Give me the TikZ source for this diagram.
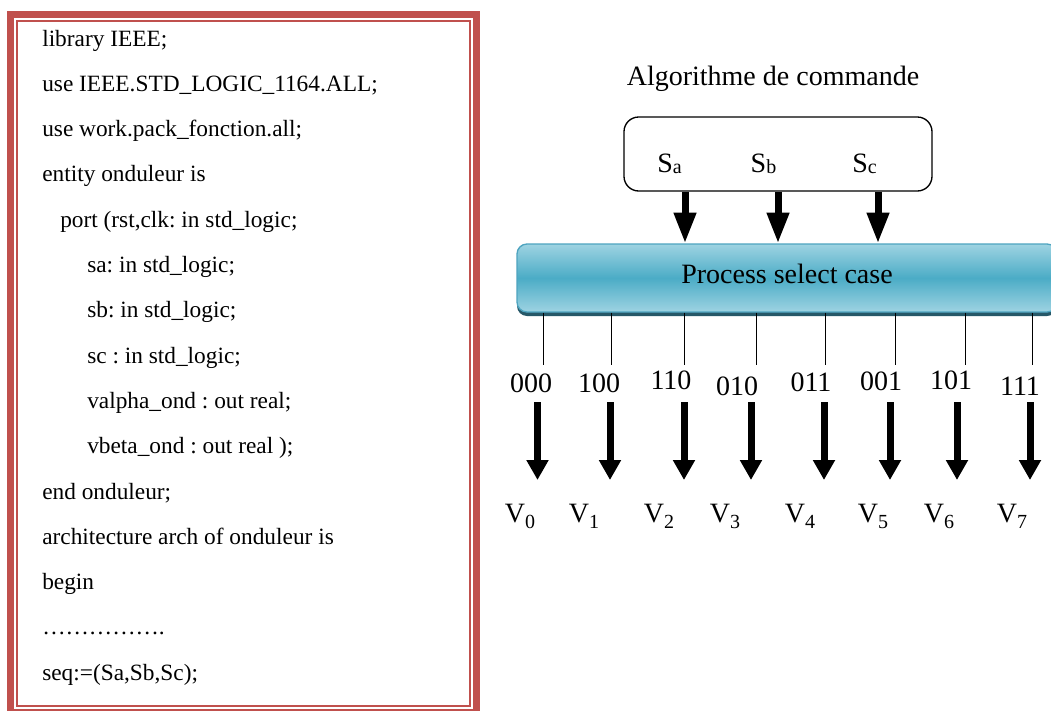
\documentclass[tikz,border=0pt]{standalone}
\usepackage{fontspec}
\setmainfont{Liberation Serif}
\usetikzlibrary{arrows.meta,shadows}
\definecolor{framered}{RGB}{192,80,77}
\definecolor{proclight}{RGB}{158,211,226}
\definecolor{procmid}{RGB}{75,172,198}
\definecolor{procedge}{RGB}{78,164,192}
\definecolor{procshadow}{RGB}{38,88,104}
\newcommand{\subA}[1]{\raisebox{-1.2pt}{\fontsize{15}{15}\selectfont #1}}
\newcommand{\subV}[1]{\raisebox{-4.5pt}{\fontsize{15}{15}\selectfont #1}}
\frenchspacing
\begin{document}
\begin{tikzpicture}[x=0.75pt,y=-0.75pt,
  code/.style={anchor=base west, font=\fontsize{17.5}{20}\selectfont, inner sep=0pt},
  lbl/.style={anchor=base, font=\fontsize{21}{24}\selectfont, inner sep=0pt},
  cmdbox/.style={draw, rounded corners=11pt, line width=1pt, minimum width=231pt, minimum height=55.5pt, inner sep=0pt},
  procbox/.style={rounded corners=7.5pt, minimum width=405pt, minimum height=51pt, inner sep=0pt,
    top color=proclight, bottom color=proclight, middle color=procmid, draw=procedge, line width=1pt,
    drop shadow={shadow xshift=0pt, shadow yshift=-3pt, fill=procshadow, opacity=1},
    font=\fontsize{21}{24}\selectfont, text height=12pt, text depth=4.5pt},
  uparrow/.style={line width=5.25pt, -{Triangle[width=15.75pt,length=23pt]}},
  downarrow/.style={line width=5.25pt, -{Triangle[width=15.75pt,length=15pt]}},
  tick/.style={line width=0.75pt}]
\useasboundingbox (0,0) rectangle (1051,711);
\fill[white] (0,0) rectangle (1051,711);
% frame
\draw[framered, line width=5.25pt] (10.5,14.5) rectangle (476.5,712);
\draw[framered, line width=1.1pt] (17,21) rectangle (470,706);
% code
\node[code] (l0) at (42,46) {library IEEE;};
\node[code] (l1) at (42,91.3) {use IEEE.STD\_LOGIC\_1164.ALL;};
\node[code] (l2) at (42,136.6) {use work.pack\_fonction.all;};
\node[code] (l3) at (42,181.9) {entity onduleur is};
\node[code] (l4) at (60,227.2) {port (rst,clk: in std\_logic;};
\node[code] (l5) at (87,272.5) {sa: in std\_logic;};
\node[code] (l6) at (87,317.8) {sb: in std\_logic;};
\node[code] (l7) at (87,363.1) {sc : in std\_logic;};
\node[code] (l8) at (87,408.4) {valpha\_ond : out real;};
\node[code] (l9) at (87,453.7) {vbeta\_ond : out real );};
\node[code] (l10) at (42,499) {end onduleur;};
\node[code] (l11) at (42,544.3) {architecture arch of onduleur is};
\node[code] (l12) at (42,589.6) {begin};
\node[code] (l13) at (42,634.9) {…………….};
\node[code] (l14) at (42,680.2) {seq:=(Sa,Sb,Sc);};
% right side
\node[lbl] (title) at (773,85) {Algorithme de commande};
\node[cmdbox] (cmd) at (778,154) {};
\node[lbl] (sa) at (669.5,172) {S\subA{a}};
\node[lbl] (sb) at (763.5,172) {S\subA{b}};
\node[lbl] (sc) at (864.5,172) {S\subA{c}};
\node[procbox] (proc) at (787,278) {Process select case};
\draw[uparrow] (685,0 |- cmd.south) -- (685,0 |- proc.north);
\draw[uparrow] (778,0 |- cmd.south) -- (778,0 |- proc.north);
\draw[uparrow] (878,0 |- cmd.south) -- (878,0 |- proc.north);
% ticks
\foreach \x [count=\i] in {543,611,684,756,825,895,965,1032}{
  \coordinate (tk\i) at (\x,365);
  \draw[tick] (\x,0 |- proc.south) -- (tk\i);
}
% bit labels
\node[lbl] (b1) at (531,392) {000};
\node[lbl] (b2) at (599,392) {100};
\node[lbl] (b3) at (671,389) {110};
\node[lbl] (b4) at (737,395) {010};
\node[lbl] (b5) at (811,391) {011};
\node[lbl] (b6) at (881,390) {001};
\node[lbl] (b7) at (951,389) {101};
\node[lbl] (b8) at (1020,395) {111};
% output arrows
\foreach \x [count=\i] in {537.5,610,684,751,824,890,957,1030}{
  \coordinate (as\i) at (\x,402);
  \coordinate (ae\i) at (\x,480);
  \draw[downarrow] (as\i) -- (ae\i);
}
% V labels
\node[lbl] (v0) at (520,522) {V\subV{0}};
\node[lbl] (v1) at (584,522) {V\subV{1}};
\node[lbl] (v2) at (659,522) {V\subV{2}};
\node[lbl] (v3) at (725,522) {V\subV{3}};
\node[lbl] (v4) at (800,522) {V\subV{4}};
\node[lbl] (v5) at (873,522) {V\subV{5}};
\node[lbl] (v6) at (939,522) {V\subV{6}};
\node[lbl] (v7) at (1012,522) {V\subV{7}};
\end{tikzpicture}
\end{document}
